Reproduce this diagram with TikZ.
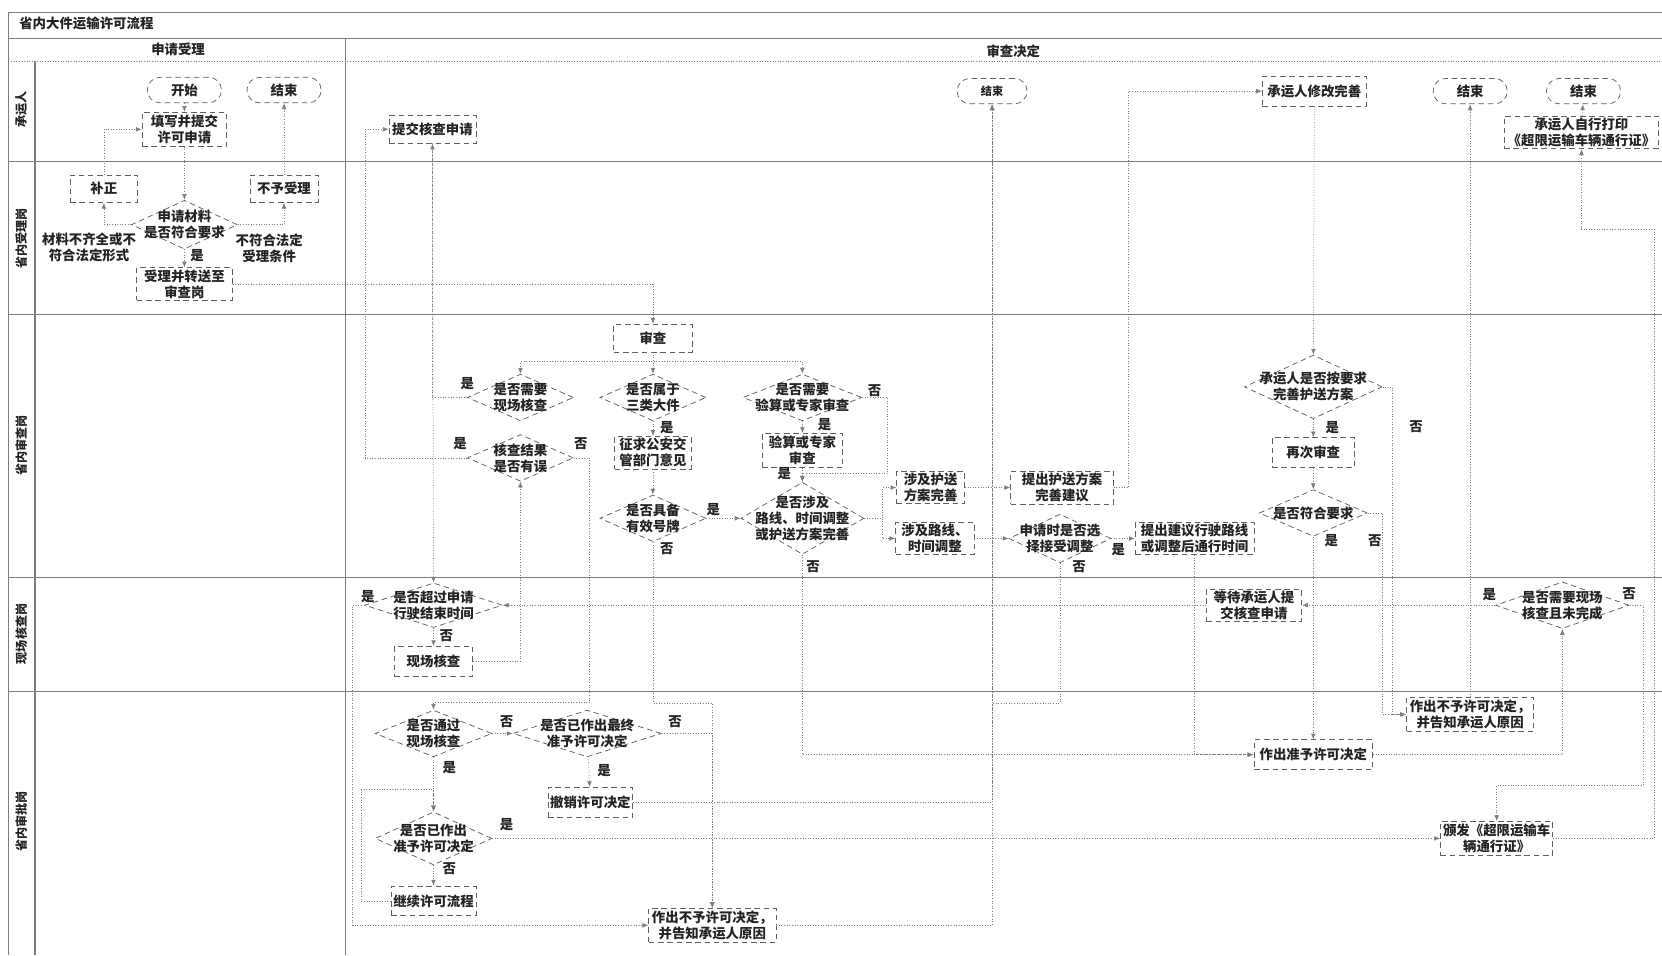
\documentclass[tikz,border=0pt]{standalone}
\usepackage{fontspec}
\setmainfont{Noto Sans CJK SC}
\usetikzlibrary{arrows.meta,shapes.geometric,calc}
\definecolor{linec}{RGB}{125,125,125}
\definecolor{bordc}{RGB}{95,95,95}
\definecolor{txtc}{RGB}{35,35,35}

\tikzset{
  every node/.style={font=\fontsize{7.2}{8.6}\selectfont\bfseries, text=txtc},
  box/.style 2 args={draw=bordc, densely dashed, minimum width=#1,
                     minimum height=#2, inner sep=1pt, align=center},
  term/.style={draw=bordc, densely dashed, rounded corners=2.4mm,
               minimum width=14mm, minimum height=4.8mm},
  dec/.style 2 args={diamond, draw=bordc, densely dashed, minimum width=#1,
                     minimum height=#2, inner sep=0pt},
  dtxt/.style={align=center},
  yn/.style={inner sep=1pt},
  lanetxt/.style={rotate=90, font=\fontsize{6.5}{7.5}\selectfont\bfseries},
  frame/.style={draw=linec, line width=0.6pt},
  flow/.style={draw=linec, densely dotted, thin,
               -{Latex[length=1.1mm,width=0.9mm]}},
}

\begin{document}
\begin{tikzpicture}[x=0.2mm, y=-0.2mm]
  \useasboundingbox (0,0) rectangle (1568,901);

  % swimlane frame
  \draw[frame] (8,12) -- (1568,12);
  \draw[frame] (8,36) -- (1568,36);
  \draw[linec, densely dotted] (8,58) -- (1568,58);
  \foreach \y in {152,297,545,652}
    \draw[frame] (8,\y) -- (1568,\y);
  \draw[frame] (8,12) -- (8,901);
  \draw[frame] (33,58) -- (33,901);
  \draw[frame] (326,36) -- (326,901);

  \node[anchor=west] (title) at (12,22) {省内大件运输许可流程};
  \node (ph1) at (168,47) {申请受理};
  \node (ph2) at (956,48) {审查决定};

  \node[lanetxt] (ln1) at (20,103) {承运人};
  \node[lanetxt] (ln2) at (20,225) {省内受理岗};
  \node[lanetxt] (ln3) at (20,420) {省内审查岗};
  \node[lanetxt] (ln4) at (20,598) {现场核查岗};
  \node[lanetxt] (ln5) at (20,775) {省内审批岗};

  % acceptance
  \node[term] (start) at (174,85) {开始};
  \node[term] (end1) at (268,85) {结束};
  \node[box={16mm}{6.4mm}] (fill) at (174,122) {填写并提交\\许可申请};
  \node[box={12.8mm}{5.2mm}] (fix) at (98,178) {补正};
  \node[box={12.8mm}{5.2mm}] (rej) at (268,178) {不予受理};
  \node[dec={20mm}{9.2mm}, label={[dtxt]center:申请材料\\是否符合要求}]
    (mat) at (174,212) {};
  \node[box={18mm}{6mm}] (accept) at (174,268) {受理并转送至\\审查岗};
  \node[dtxt] (lnot) at (84,233) {材料不齐全或不\\符合法定形式};
  \node[dtxt] (lrej) at (254,234) {不符合法定\\受理条件};
  \node[yn] (y0) at (186,241) {是};

  % review
  \node[box={16.4mm}{5.2mm}] (submit) at (408,122) {提交核查申请};
  \node[box={14.8mm}{5.2mm}] (review) at (616,319) {审查};
  \node[dec={20mm}{8.8mm}, label={[dtxt]center:是否需要\\现场核查}]
    (needsite) at (491,375) {};
  \node[dec={20mm}{8.8mm}, label={[dtxt]center:核查结果\\是否有误}]
    (err) at (491,432) {};
  \node[dec={20mm}{8.8mm}, label={[dtxt]center:是否属于\\三类大件}]
    (cls) at (616,375) {};
  \node[box={14.4mm}{6mm}] (police) at (616,427) {征求公安交\\管部门意见};
  \node[dec={20mm}{8.8mm}, label={[dtxt]center:是否具备\\有效号牌}]
    (plate) at (616,489) {};
  \node[dec={22.4mm}{8.8mm}, label={[dtxt]center:是否需要\\验算或专家审查}]
    (calc) at (757,375) {};
  \node[box={15.2mm}{6.4mm}] (vcalc) at (757,425) {验算或专家\\审查};
  \node[dec={23.2mm}{13.6mm},
        label={[dtxt]center:是否涉及\\路线、时间调整\\或护送方案完善}]
    (adj3) at (757,489) {};
  \node[box={12.8mm}{6mm}] (escort) at (878,460) {涉及护送\\方案完善};
  \node[box={14.8mm}{6mm}] (route) at (882,508) {涉及路线、\\时间调整};
  \node[box={19.4mm}{6mm}] (escsug) at (1002,460) {提出护送方案\\完善建议};
  \node[dec={19.2mm}{9.2mm}, label={[dtxt]center:申请时是否选\\择接受调整}]
    (adj) at (1000,508) {};
  \node[box={22.4mm}{6mm}] (routesug) at (1127,508)
    {提出建议行驶路线\\或调整后通行时间};
  \node[term, minimum width=13.2mm, font=\fontsize{6}{7}\selectfont\bfseries]
    (end2) at (936,86) {结束};
  \node[box={19.6mm}{5.6mm}] (mod) at (1240,86) {承运人修改完善};
  \node[term] (end3) at (1387,86) {结束};
  \node[term] (end4) at (1494,86) {结束};
  \node[box={29.2mm}{6mm}] (print) at (1492,125)
    {承运人自行打印\\《超限运输车辆通行证》};
  \node[dec={26mm}{12mm}, label={[dtxt]center:承运人是否按要求\\完善护送方案}]
    (carq) at (1239,365) {};
  \node[box={15.6mm}{5.6mm}] (recheck) at (1239,427) {再次审查};
  \node[dec={20.4mm}{8.8mm}, label={[dtxt]center:是否符合要求}]
    (okq) at (1239,484) {};

  % on-site check
  \node[dec={26mm}{8.4mm}, label={[dtxt]center:是否超过申请\\行驶结束时间}]
    (exceed) at (409,571) {};
  \node[box={14.8mm}{5.6mm}] (site) at (409,624) {现场核查};
  \node[box={18mm}{6mm}] (wait) at (1183,571) {等待承运人提\\交核查申请};
  \node[dec={25.2mm}{8.8mm}, label={[dtxt]center:是否需要现场\\核查且未完成}]
    (siteq) at (1474,571) {};

  % approval
  \node[dec={22mm}{8.8mm}, label={[dtxt]center:是否通过\\现场核查}]
    (pass) at (409,692) {};
  \node[dec={28mm}{8.8mm}, label={[dtxt]center:是否已作出最终\\准予许可决定}]
    (final) at (554,692) {};
  \node[box={16mm}{5.6mm}] (revoke) at (557,757) {撤销许可决定};
  \node[dec={22mm}{10mm}, label={[dtxt]center:是否已作出\\准予许可决定}]
    (grantq) at (409,791) {};
  \node[box={16mm}{5.6mm}] (cont) at (409,850) {继续许可流程};
  \node[box={24mm}{6.4mm}] (nok1) at (672,873) {作出不予许可决定，\\并告知承运人原因};
  \node[box={24mm}{6.4mm}] (nok2) at (1387,674) {作出不予许可决定，\\并告知承运人原因};
  \node[box={22.4mm}{5.6mm}] (grant) at (1239,712) {作出准予许可决定};
  \node[box={21.2mm}{6.4mm}] (issue) at (1412,791) {颁发《超限运输车\\辆通行证》};

  % yes / no labels
  \node[yn] (y1) at (441,362) {是};
  \node[yn] (y2) at (434,419) {是};
  \node[yn] (n2) at (548,419) {否};
  \node[yn] (y3) at (629,403) {是};
  \node[yn] (y4) at (673,481) {是};
  \node[yn] (n4) at (629,518) {否};
  \node[yn] (n5) at (825,369) {否};
  \node[yn] (y5) at (778,401) {是};
  \node[yn] (y6) at (740,447) {是};
  \node[yn] (n6) at (767,535) {否};
  \node[yn] (y7) at (1055,519) {是};
  \node[yn] (n7) at (1018,535) {否};
  \node[yn] (y8) at (1257,403) {是};
  \node[yn] (n8) at (1336,403) {否};
  \node[yn] (y9) at (1256,510) {是};
  \node[yn] (n9) at (1297,510) {否};
  \node[yn] (y10) at (1405,561) {是};
  \node[yn] (n10) at (1537,560) {否};
  \node[yn] (y11) at (347,563) {是};
  \node[yn] (n11) at (421,600) {否};
  \node[yn] (n12) at (478,681) {否};
  \node[yn] (y12) at (424,724) {是};
  \node[yn] (n13) at (637,681) {否};
  \node[yn] (y13) at (570,727) {是};
  \node[yn] (y14) at (478,778) {是};
  \node[yn] (n14) at (424,820) {否};

  % connectors
  \draw[flow] (start) -- (fill);
  \draw[flow] (fill) -- (mat);
  \draw[flow] (mat.west) -| (fix.south);
  \draw[flow] (fix.north) |- (fill.west);
  \draw[flow] (mat.east) -| (rej.south);
  \draw[flow] (rej) -- (end1);
  \draw[flow] (mat) -- (accept);
  \draw[flow] (accept.east) -| (review.north);
  \draw[flow] (review.south) -- (cls.north);
  \draw[flow] (review.south) -- ++(0,9) -| (needsite.north);
  \draw[flow] (review.south) -- ++(0,9) -| (calc.north);
  \draw[flow] (needsite.west) -| (submit.south);
  \draw[flow] (submit.south) -- (exceed.north);
  \draw[flow] (err.west) -| ++(-96,-310) -- (submit.west);
  \draw[flow] (err.east) -| ++(15,231) -| (pass.north);
  \draw[flow] (cls) -- (police);
  \draw[flow] (police) -- (plate);
  \draw[flow] (plate.east) -- (adj3.west);
  \draw[flow] (plate.south) |- ++(56,152) -- (nok1.north);
  \draw[flow] (calc) -- (vcalc);
  \draw[flow] (vcalc) -- (adj3);
  \draw[flow] (calc.east) -| ++(24,72) -| (adj3.north);
  \draw[flow] (adj3.east) -- ++(17,0) |- (escort.west);
  \draw[flow] (adj3.east) -- ++(17,0) |- (route.west);
  \draw[flow] (escort) -- (escsug);
  \draw[flow] (route) -- (adj);
  \draw[flow] (escsug.east) -| ++(14,-374) -- (mod.west);
  \draw[flow] (adj.east) -- (routesug.west);
  \draw[flow] (adj.south) |- ++(-64,132) -- (end2.south);
  \draw[flow] (routesug.south) |- (grant.west);
  \draw[flow] (adj3.south) |- (grant.west);
  \draw[flow] (mod) -- (carq);
  \draw[flow] (carq) -- (recheck);
  \draw[flow] (recheck) -- (okq);
  \draw[flow] (okq) -- (grant);
  \draw[flow] (carq.east) -| ++(9,309) -- (nok2.west);
  \draw[flow] (okq.east) -| ++(14,190) -- (nok2.west);
  \draw[flow] (nok2) -- (end3);
  \draw[flow] (grant.east) -| (siteq.south);
  \draw[flow] (siteq.west) -- (wait.east);
  \draw[flow] (wait.west) -- (exceed.east);
  \draw[flow] (siteq.east) -| ++(13,170) -| (issue.north);
  \draw[flow] (issue.east) -| ++(95,-575) -| (print.south);
  \draw[flow] (print) -- (end4);
  \draw[flow] (exceed) -- (site);
  \draw[flow] (exceed.west) -| ++(-11,302) -- (nok1.west);
  \draw[flow] (site.east) -| (err.south);
  \draw[flow] (pass) -- (grantq);
  \draw[flow] (pass) -- (final);
  \draw[flow] (final) -- (revoke);
  \draw[flow] (final.east) -| (nok1.north);
  \draw[flow] (revoke.east) -| (end2.south);
  \draw[flow] (nok1.east) -| (end2.south);
  \draw[flow] (grantq) -- (cont);
  \draw[flow] (cont.west) -| ++(-28,-105) -| (grantq.north);
  \draw[flow] (grantq.east) -- (issue.west);
\end{tikzpicture}
\end{document}
